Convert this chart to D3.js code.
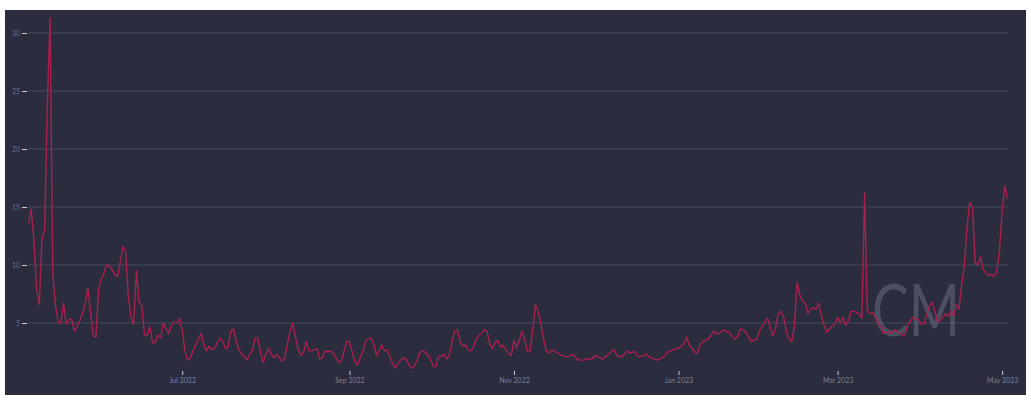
<!DOCTYPE html>
<html>
<head>
<meta charset="utf-8">
<script src="https://cdn.jsdelivr.net/npm/d3@7"></script>
<style>
  body { margin: 0; background: #fff; }
  svg { display: block; }
</style>
</head>
<body>
<div id="chart"></div>
<script>
// daily values, first point is 5 May 2022
var startDay = "2022-05-05"

var valsMayJul = [13.6, 14.8, 12.2, 7.9, 6.6, 12.3, 13.0, 24.0, 31.3, 9.2,
  6.5, 5.1, 5.0, 6.7, 4.9, 5.3, 5.3, 4.3, 4.7, 5.2,
  5.8, 6.6, 8.0, 6.0, 3.9, 3.8, 7.9, 8.8, 9.3, 10.0,
  9.9, 9.6, 9.2, 9.0, 10.2, 11.6, 11.2, 7.3, 5.5, 4.9,
  9.5, 6.8, 6.5, 4.0, 3.9, 4.7, 3.3, 3.3, 4.0, 3.7,
  5.0, 4.5, 4.1, 4.8, 5.1, 5.0, 5.4, 4.4, 2.6, 1.8,
  2.0, 2.6, 3.1, 3.6, 4.1, 3.2, 2.6, 3.0, 2.7, 2.8,
  3.3, 3.7]

var valsJulSep = [3.4, 2.8, 2.9, 4.3, 4.5, 3.5, 2.7, 2.3, 2.1, 1.8,
  2.3, 2.6, 3.7, 3.7, 2.5, 1.6, 2.3, 2.8, 2.3, 2.0,
  2.3, 2.0, 1.7, 2.0, 3.2, 4.3, 5.0, 3.8, 2.7, 2.2,
  2.5, 3.4, 2.6, 2.6, 2.7, 2.8, 1.9, 2.0, 2.6, 2.5,
  2.6, 2.4, 2.0, 1.6, 1.7, 2.6, 3.4, 3.4, 2.5, 1.7,
  1.4, 2.0, 2.6, 3.4, 3.7, 3.7, 3.2, 2.2, 2.6, 3.1,
  2.6, 2.7, 2.1, 1.5, 1.1, 1.5, 1.8, 2.0, 1.9, 1.4,
  1.1, 1.3, 1.7, 2.4]

var valsOctDec = [2.6, 2.5, 2.3, 1.9, 1.3, 1.2, 2.1, 2.1, 2.3, 1.9,
  2.2, 3.3, 4.3, 4.4, 3.4, 3.0, 3.1, 2.7, 2.6, 2.9,
  3.6, 3.9, 4.1, 4.4, 4.3, 3.2, 2.8, 3.3, 3.5, 2.9,
  3.1, 2.7, 2.4, 2.2, 3.5, 2.9, 3.5, 4.3, 3.5, 2.5,
  2.6, 4.5, 6.6, 6.0, 4.9, 3.6, 2.6, 2.4, 2.7, 2.6,
  2.4, 2.3, 2.2, 2.1, 2.1, 2.2, 2.3, 2.0, 1.8, 1.8,
  1.8, 1.9, 1.9, 1.9, 2.2, 2.1, 2.0, 1.9, 2.1, 2.3,
  2.5, 2.7]

var valsDecFeb = [2.3, 2.1, 2.1, 2.3, 2.6, 2.4, 2.5, 2.5, 2.1, 2.1,
  2.2, 2.3, 2.1, 2.0, 1.9, 1.8, 1.9, 2.0, 2.2, 2.5,
  2.6, 2.7, 2.8, 2.8, 3.0, 3.2, 3.8, 3.1, 2.8, 2.5,
  2.4, 3.1, 3.4, 3.5, 3.6, 3.9, 4.3, 4.1, 4.1, 4.3,
  4.4, 4.2, 4.2, 3.8, 3.6, 3.9, 4.5, 4.4, 4.2, 3.8,
  3.4, 3.5, 3.6, 4.3, 4.7, 5.1, 5.4, 4.6, 3.9, 4.6,
  5.8, 6.0, 5.5, 4.3, 3.6, 3.4, 4.8, 8.5, 7.4, 6.9,
  6.7, 5.8]

var valsFebMay = [6.2, 6.3, 6.2, 6.7, 5.6, 4.8, 4.2, 4.5, 4.7, 4.9,
  5.5, 5.0, 5.5, 4.8, 5.2, 6.0, 6.0, 5.9, 5.8, 5.4,
  16.2, 6.1, 5.8, 5.9, 5.5, 5.0, 4.7, 4.1, 4.2, 4.2,
  4.1, 4.4, 4.3, 4.1, 3.9, 4.0, 4.8, 5.2, 5.5, 5.3,
  5.3, 4.9, 4.9, 5.7, 6.4, 6.8, 6.1, 5.1, 5.2, 5.5,
  5.8, 5.6, 6.0, 5.6, 6.6, 6.2, 8.3, 10.0, 13.3, 15.4,
  15.0, 10.2, 10.0, 10.7, 9.6, 9.3, 9.1, 9.2, 9.0, 9.4,
  11.2, 14.6, 16.8, 15.7]

var yTicks = [5, 10, 15, 20, 25, 30]
var xTickDays = ["2022-07-01", "2022-09-01", "2022-11-01", "2023-01-01", "2023-03-01", "2023-05-01"]
var xTickLabels = ["Jul 2022", "Sep 2022", "Nov 2022", "Jan 2023", "Mar 2023", "May 2023"]

var width = 1031
var height = 403

var parseDay = d3.timeParse("%Y-%m-%d")
var allVals = valsMayJul.concat(valsJulSep, valsOctDec, valsDecFeb, valsFebMay)
var first = parseDay(startDay)
var data = allVals.map(function(v, i) {
  return {date: d3.timeDay.offset(first, i), value: v}
})

var x = d3.scaleTime()
  .domain([first, data[data.length - 1].date])
  .range([28.5, 28.5 + (data.length - 1) * 2.697])

var y = d3.scaleLinear().domain([0, 30]).range([381, 33])

var svg = d3.select("#chart").append("svg")
  .attr("width", width)
  .attr("height", height)

svg.append("rect")
  .attr("x", 5).attr("y", 10)
  .attr("width", 1021).attr("height", 385)
  .attr("fill", "#2b2d3e")

// grid
svg.append("g").selectAll("line")
  .data(yTicks)
  .enter().append("line")
  .attr("x1", 28).attr("x2", 1008)
  .attr("y1", function(d) { return y(d) })
  .attr("y2", function(d) { return y(d) })
  .attr("stroke", "#474a5e")
  .attr("stroke-width", 1)

var yAxis = svg.append("g")
  .attr("transform", "translate(27,0)")
  .call(d3.axisLeft(y).tickValues(yTicks).tickSize(5).tickPadding(2))
yAxis.select(".domain").remove()
yAxis.selectAll(".tick line").attr("stroke", "#c9cbd6")
yAxis.selectAll("text")
  .attr("fill", "#6a6e86")
  .style("font-family", "Lato, sans-serif")
  .style("font-size", "7px")

var xAxis = svg.append("g")
  .attr("transform", "translate(0,371)")
  .call(d3.axisBottom(x)
    .tickValues(xTickDays.map(parseDay))
    .tickFormat(function(d, i) { return xTickLabels[i] })
    .tickSize(4).tickPadding(3))
xAxis.select(".domain").remove()
xAxis.selectAll(".tick line").attr("stroke", "#c9cbd6")
xAxis.selectAll("text")
  .attr("fill", "#7a7f9c")
  .style("font-family", "Lato, sans-serif")
  .style("font-size", "7px")

// watermark
svg.append("text")
  .attr("x", 872)
  .attr("y", 336)
  .attr("textLength", 88)
  .attr("lengthAdjust", "spacingAndGlyphs")
  .style("font-family", "Lato, sans-serif")
  .style("font-weight", 400)
  .style("font-size", "72px")
  .attr("fill", "#8f94a6")
  .attr("opacity", 0.33)
  .text("CM")

var line = d3.line()
  .x(function(d) { return x(d.date) })
  .y(function(d) { return y(d.value) })

svg.append("path")
  .datum(data)
  .attr("fill", "none")
  .attr("stroke", "#a91f4e")
  .attr("stroke-width", 1.4)
  .attr("stroke-linejoin", "round")
  .attr("d", line)
</script>
</body>
</html>
